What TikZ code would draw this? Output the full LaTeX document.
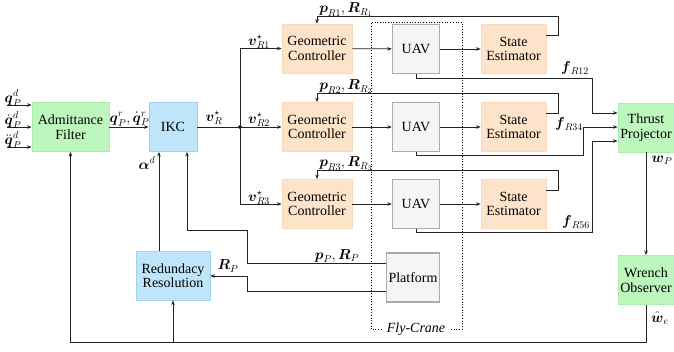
\documentclass[tikz,border=0pt]{standalone}
\usepackage{amsmath,amssymb}
\usepackage{fontspec}
\setmainfont{Liberation Serif}
\usetikzlibrary{arrows.meta}
\definecolor{orfill}{HTML}{FDE3CA}
\definecolor{ordraw}{HTML}{FAD8B8}
\definecolor{grfill}{HTML}{BEF7BE}
\definecolor{grdraw}{HTML}{A8EEA8}
\definecolor{blfill}{HTML}{BEE5F9}
\definecolor{bldraw}{HTML}{9DD5F0}
\definecolor{gyfill}{HTML}{F5F5F5}
\definecolor{gydraw}{HTML}{ABABAB}
\definecolor{ln}{HTML}{222222}
\begin{document}
\begin{tikzpicture}[x=1pt,y=-1pt,
  font=\fontsize{14}{14.5}\selectfont,
  blk/.style={rectangle, inner sep=0pt, minimum height=49pt, align=center, line width=0.9pt},
  gbox/.style={blk, fill=grfill, draw=grdraw},
  bbox/.style={blk, fill=blfill, draw=bldraw},
  obox/.style={blk, fill=orfill, draw=ordraw, minimum width=70pt},
  ybox/.style={blk, fill=gyfill, draw=gydraw, line width=1.3pt},
  arr/.style={draw=ln, line width=0.8pt, -{Stealth[length=4.5pt,width=3.5pt]}},
  ln/.style={draw=ln, line width=0.8pt},
  lbl/.style={inner sep=0pt}
]
\useasboundingbox (0,0) rectangle (674,352);

% Fly-Crane dotted frame
\draw[dotted, line width=0.7pt] (371,329) rectangle (462,22);
\node[lbl, fill=white, inner xsep=5pt, inner ysep=1pt, font=\fontsize{14}{14.5}\selectfont\itshape] (fc) at (416,329) {Fly-Crane};

% blocks
\node[gbox, minimum width=77pt] (af) at (70.5,127) {Admittance\\Filter};
\node[bbox, minimum width=48pt] (ikc) at (173,127) {IKC};
\node[bbox, minimum width=74pt] (rr) at (173,275.5) {Redundacy\\Resolution};

\node[obox] (gc1) at (317,48.5) {Geometric\\Controller};
\node[obox] (gc2) at (317,127) {Geometric\\Controller};
\node[obox] (gc3) at (317,204) {Geometric\\Controller};

\node[ybox, minimum width=47pt] (uav1) at (416,49) {UAV};
\node[ybox, minimum width=47pt] (uav2) at (416,127) {UAV};
\node[ybox, minimum width=47pt] (uav3) at (416,204) {UAV};
\node[ybox, minimum width=53pt] (pl) at (413,277.5) {Platform};

\node[obox, minimum width=65pt] (se1) at (513.5,49) {State\\Estimator};
\node[obox, minimum width=65pt] (se2) at (513.5,127) {State\\Estimator};
\node[obox, minimum width=65pt] (se3) at (513.5,204) {State\\Estimator};

\node[gbox, minimum width=56pt] (tp) at (646,127.5) {Thrust\\Projector};
\node[gbox, minimum width=56pt] (wo) at (646,280) {Wrench\\Observer};

% inputs
\coordinate (in1) at (7,105);
\coordinate (in2) at (7,127);
\coordinate (in3) at (7,147);
\draw[arr] (in1) -- (in1 -| af.west);
\draw[arr] (in2) -- (in2 -| af.west);
\draw[arr] (in3) -- (in3 -| af.west);
\node[lbl] (lq1) at (13,98) {$\boldsymbol{q}_P^d$};
\node[lbl] (lq2) at (13,120) {$\dot{\boldsymbol{q}}_P^d$};
\node[lbl] (lq3) at (13,140) {$\ddot{\boldsymbol{q}}_P^d$};

\draw[arr] (af) -- (ikc);
\node[lbl] (lqr) at (129.5,119) {$\boldsymbol{q}_P^r,\dot{\boldsymbol{q}}_P^r$};

% IKC to controllers
\coordinate (j) at (240,127);
\draw[ln] (ikc) -- (j);
\fill[ln] (j) circle (1.6pt);
\node[lbl] (lvr) at (214,118) {$\boldsymbol{v}_R^\star$};
\draw[arr] (j) |- (gc1);
\draw[arr] (j) -- (gc2);
\draw[arr] (j) |- (gc3);
\node[lbl] (lv1) at (259,42) {$\boldsymbol{v}_{R1}^\star$};
\node[lbl] (lv2) at (259,120) {$\boldsymbol{v}_{R2}^\star$};
\node[lbl] (lv3) at (259,198) {$\boldsymbol{v}_{R3}^\star$};

\draw[arr] (gc1) -- (uav1);
\draw[arr] (gc2) -- (uav2);
\draw[arr] (gc3) -- (uav3);
\draw[arr] (uav1) -- (se1);
\draw[arr] (uav2) -- (se2);
\draw[arr] (uav3) -- (se3);

% state feedback
\coordinate (fb1) at (558,16);
\coordinate (fb2) at (558,93);
\coordinate (fb3) at (558,170);
\draw[arr] (se1.east |- 0,35) -| (fb1) -| (gc1.north);
\draw[arr] (se2.east |- 0,113) -| (fb2) -| (gc2.north);
\draw[arr] (se3.east |- 0,190) -| (fb3) -| (gc3.north);
\node[lbl, anchor=base] (lp1) at (346,13) {$\boldsymbol{p}_{R1},\boldsymbol{R}_{R_1}$};
\node[lbl, anchor=base] (lp2) at (346,90) {$\boldsymbol{p}_{R2},\boldsymbol{R}_{R_2}$};
\node[lbl, anchor=base] (lp3) at (346,167) {$\boldsymbol{p}_{R3},\boldsymbol{R}_{R_3}$};

% forces to thrust projector
\coordinate (c12) at (592,78);
\coordinate (c34) at (583,155);
\coordinate (c56) at (592,232);
\draw[arr] (uav1.south) |- (c12) |- (tp.west |- 0,113);
\draw[arr] (uav2.south) |- (c34) |- (tp.west |- 0,127);
\draw[arr] (uav3.south) |- (c56) |- (tp.west |- 0,141);
\node[lbl] (lf1) at (575,68) {$\boldsymbol{f}_{R12}$};
\node[lbl] (lf2) at (569,124) {$\boldsymbol{f}_{R34}$};
\node[lbl] (lf3) at (576,222) {$\boldsymbol{f}_{R56}$};

% thrust projector to wrench observer
\draw[arr] (tp) -- (wo);
\node[lbl] (lwp) at (662,160) {$\boldsymbol{w}_P$};

% wrench feedback
\coordinate (bot) at (70.5,342);
\draw[arr] (wo.south) |- (bot) -- (af.south);
\draw[arr] (rr.south |- bot) -- (rr.south);
\node[lbl] (lwe) at (660,318) {$\hat{\boldsymbol{w}}_e$};

% redundancy to IKC
\draw[arr] (rr.north -| 159,0) -- (ikc.south -| 159,0);
\node[lbl] (lal) at (147,163) {$\boldsymbol{\alpha}^d$};

% platform
\coordinate (pp1) at (247,230);
\coordinate (pp2) at (247,276);
\draw[arr] (pl.west |- 0,263) -| (pp1) -| (ikc.south -| 187,0);
\draw[arr] (pl.west |- 0,291) -| (pp2) -- (rr.east |- pp2);
\node[lbl] (lpp) at (337,256) {$\boldsymbol{p}_P,\boldsymbol{R}_P$};
\node[lbl] (lrp) at (228,266) {$\boldsymbol{R}_P$};
\end{tikzpicture}
\end{document}
